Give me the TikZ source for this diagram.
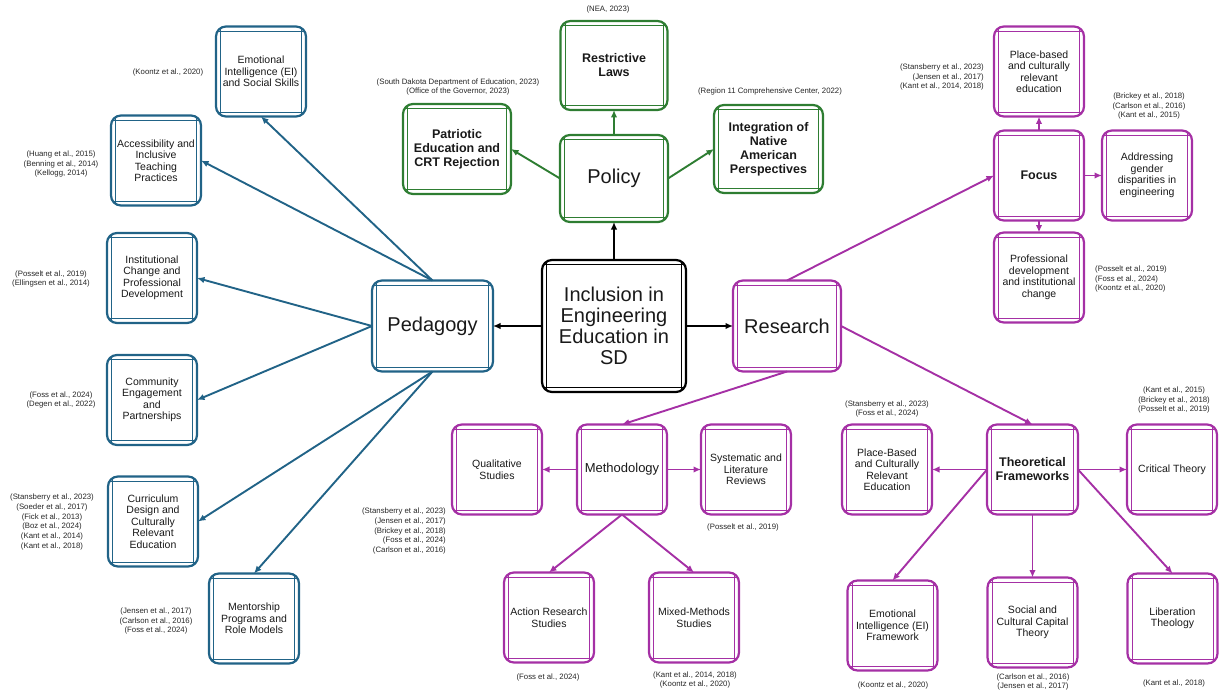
\documentclass[tikz,border=0pt]{standalone}
\usepackage{fontspec}
\setmainfont{Liberation Sans}
\usetikzlibrary{positioning,arrows.meta}

\definecolor{pedblue}{RGB}{33,99,135}
\definecolor{polgreen}{RGB}{46,125,50}
\definecolor{respurple}{RGB}{165,48,165}

\tikzstyle{arrow} = [line width=1.9pt,-{Latex[length=7.5pt,width=6.5pt]}]
\tikzset{
 mapbox/.style
  = {rectangle, draw=#1, rounded corners=10pt, line width=2.2pt, outer sep=0pt,
     minimum width=90pt, minimum height=90pt, inner sep=2pt, align=center, text=black!90,
     font=\fontsize{10.5}{11.5}\selectfont,
     path picture={\draw[#1, line width=0.7pt]
       ([yshift=-4.5pt]path picture bounding box.north west) -- ([yshift=-4.5pt]path picture bounding box.north east)
       ([yshift=4.5pt]path picture bounding box.south west) -- ([yshift=4.5pt]path picture bounding box.south east)
       ([xshift=4.5pt]path picture bounding box.north west) -- ([xshift=4.5pt]path picture bounding box.south west)
       ([xshift=-4.5pt]path picture bounding box.north east) -- ([xshift=-4.5pt]path picture bounding box.south east);}},
 hubbox/.style = {mapbox=black},
 pedbox/.style = {mapbox=pedblue},
 polbox/.style = {mapbox=polgreen},
 resbox/.style = {mapbox=respurple},
 bigtext/.style = {font=\fontsize{20}{21}\selectfont},
 boldtext/.style = {font=\fontsize{12.5}{14}\selectfont\bfseries},
 cite/.style = {inner sep=1pt, align=center, text=black!85, font=\fontsize{7.8}{9.8}\selectfont},
 pedarrow/.style = {arrow, draw=pedblue, fill=pedblue},
 polarrow/.style = {arrow, draw=polgreen, fill=polgreen},
 resarrow/.style = {arrow, draw=respurple, fill=respurple},
 hubarrow/.style = {arrow, line width=1.4pt, draw=black},
}

\begin{document}
\begin{tikzpicture}[x=1pt, y=1pt]
\useasboundingbox (0,0) rectangle (1225,-698);

% centre and the three branches
\node (hub) [hubbox, bigtext, minimum width=144pt, minimum height=132pt] at (614,-326) {Inclusion in\\Engineering\\Education in\\SD};
\node (ped) [pedbox, bigtext, minimum width=121pt, minimum height=91pt, left=49pt of hub] {Pedagogy};
\node (res) [resbox, bigtext, minimum width=108pt, minimum height=91pt, right=47pt of hub] {Research};
\node (policy) [polbox, bigtext, minimum width=108pt, minimum height=87pt, above=38pt of hub] {Policy};

% policy
\node (restr) [polbox, boldtext, minimum width=107pt, minimum height=89pt, above=25pt of policy] {Restrictive\\Laws};
\node (patr) [polbox, boldtext, minimum width=108pt, left=49pt of policy, yshift=29.5pt] {Patriotic\\Education and\\CRT Rejection};
\node (integ) [polbox, boldtext, minimum width=109pt, minimum height=88pt, right=46pt of policy, yshift=29.5pt] {Integration of\\Native\\American\\Perspectives};

% pedagogy
\node (eisk) [pedbox, above left=164pt and 66pt of ped] {Emotional\\Intelligence (EI)\\and Social Skills};
\node (access) [pedbox, above left=75pt and 171pt of ped] {Accessibility and\\Inclusive\\Teaching\\Practices};
\node (instit) [pedbox, left=175pt of ped, yshift=48pt] {Institutional\\Change and\\Professional\\Development};
\node (commun) [pedbox, left=175pt of ped, yshift=-74pt] {Community\\Engagement\\and\\Partnerships};
\node (curric) [pedbox, below left=105pt and 174pt of ped] {Curriculum\\Design and\\Culturally\\Relevant\\Education};
\node (mentor) [pedbox, below left=202pt and 73pt of ped] {Mentorship\\Programs and\\Role Models};

% research: focus
\node (focus) [resbox, boldtext, above right=60pt and 153pt of res] {Focus};
\node (placeb) [resbox, above=14pt of focus] {Place-based\\and culturally\\relevant\\education};
\node (gender) [resbox, right=18pt of focus] {Addressing\\gender\\disparities in\\engineering};
\node (profdev) [resbox, below=12pt of focus] {Professional\\development\\and institutional\\change};

% research: methodology
\node (method) [resbox, font=\fontsize{13}{14}\selectfont, below left=53pt and 66pt of res] {Methodology};
\node (qual) [resbox, left=35pt of method] {Qualitative\\Studies};
\node (system) [resbox, right=34pt of method] {Systematic and\\Literature\\Reviews};
\node (action) [resbox, below=58pt of method, xshift=-73pt] {Action Research\\Studies};
\node (mixed) [resbox, below=58pt of method, xshift=72pt] {Mixed-Methods\\Studies};

% research: theoretical frameworks
\node (theo) [resbox, boldtext, minimum width=91pt, below right=53pt and 146pt of res] {Theoretical\\Frameworks};
\node (placeB) [resbox, left=55pt of theo] {Place-Based\\and Culturally\\Relevant\\Education};
\node (critical) [resbox, right=49pt of theo] {Critical Theory};
\node (eif) [resbox, below=66pt of theo, xshift=-140pt] {Emotional\\Intelligence (EI)\\Framework};
\node (social) [resbox, below=63pt of theo] {Social and\\Cultural Capital\\Theory};
\node (liber) [resbox, below=59pt of theo, xshift=140pt] {Liberation\\Theology};

% references
\node (c_eisk) [cite] at (168,-72) {(Koontz et al., 2020)};
\node (c_access) [cite] at (61,-164) {(Huang et al., 2015)\\(Benning et al., 2014)\\(Kellogg, 2014)};
\node (c_instit) [cite] at (51,-279) {(Posselt et al., 2019)\\(Ellingsen et al., 2014)};
\node (c_commun) [cite] at (61,-400) {(Foss et al., 2024)\\(Degen et al., 2022)};
\node (c_curric) [cite] at (52,-522) {(Stansberry et al., 2023)\\(Soeder et al., 2017)\\(Fick et al., 2013)\\(Boz et al., 2024)\\(Kant et al., 2014)\\(Kant et al., 2018)};
\node (c_mentor) [cite] at (156,-621) {(Jensen et al., 2017)\\(Carlson et al., 2016)\\(Foss et al., 2024)};
\node (c_restr) [cite] at (608,-9) {(NEA, 2023)};
\node (c_patr) [cite] at (458,-87) {(South Dakota Department of Education, 2023)\\(Office of the Governor, 2023)};
\node (c_integ) [cite] at (770,-91) {(Region 11 Comprehensive Center, 2022)};
\node (c_placeb) [cite, align=right, anchor=east] at (985,-77) {(Stansberry et al., 2023)\\(Jensen et al., 2017)\\(Kant et al., 2014, 2018)};
\node (c_gender) [cite] at (1149,-106) {(Brickey et al., 2018)\\(Carlson et al., 2016)\\(Kant et al., 2015)};
\node (c_profdev) [cite, align=left, anchor=west] at (1094,-279) {(Posselt et al., 2019)\\(Foss et al., 2024)\\(Koontz et al., 2020)};
\node (c_method) [cite, align=right, anchor=east] at (447,-531) {(Stansberry et al., 2023)\\(Jensen et al., 2017)\\(Brickey et al., 2018)\\(Foss et al., 2024)\\(Carlson et al., 2016)};
\node (c_system) [cite] at (743,-527) {(Posselt et al., 2019)};
\node (c_action) [cite] at (548,-677) {(Foss et al., 2024)};
\node (c_mixed) [cite] at (695,-680) {(Kant et al., 2014, 2018)\\(Koontz et al., 2020)};
\node (c_placeB) [cite] at (887,-409) {(Stansberry et al., 2023)\\(Foss et al., 2024)};
\node (c_critical) [cite] at (1174,-400) {(Kant et al., 2015)\\(Brickey et al., 2018)\\(Posselt et al., 2019)};
\node (c_eif) [cite] at (893,-685) {(Koontz et al., 2020)};
\node (c_social) [cite] at (1033,-682) {(Carlson et al., 2016)\\(Jensen et al., 2017)};
\node (c_liber) [cite] at (1174,-683) {(Kant et al., 2018)};

% connectors
\draw [hubarrow] (hub.west) -- (ped.east);
\draw [hubarrow] (hub.east) -- (res.west);
\draw [hubarrow] (hub.north) -- (policy.south);

\draw [polarrow] (policy.north) -- (restr.south);
\draw [polarrow] (policy.west) -- (patr.east);
\draw [polarrow] (policy.east) -- (integ.west);

\draw [pedarrow] (ped.north) -- (eisk.south);
\draw [pedarrow] (ped.north) -- (access.east);
\draw [pedarrow] (ped.west) -- (instit.east);
\draw [pedarrow] (ped.west) -- (commun.east);
\draw [pedarrow] (ped.south) -- (curric.east);
\draw [pedarrow] (ped.south) -- (mentor.north);

\draw [resarrow] (res.north) -- (focus.west);
\draw [resarrow] (res.south) -- (method.north);
\draw [resarrow] (res.east) -- (theo.north);

\draw [resarrow] (focus.north) -- (placeb.south);
\draw [resarrow] (focus.east) -- (gender.west);
\draw [resarrow] (focus.south) -- (profdev.north);

\draw [resarrow] (method.west) -- (qual.east);
\draw [resarrow] (method.east) -- (system.west);
\draw [resarrow] (method.south) -- (action.north);
\draw [resarrow] (method.south) -- (mixed.north);

\draw [resarrow] (theo.west) -- (placeB.east);
\draw [resarrow] (theo.east) -- (critical.west);
\draw [resarrow] (theo.west) -- (eif.north);
\draw [resarrow] (theo.south) -- (social.north);
\draw [resarrow] (theo.east) -- (liber.north);
\end{tikzpicture}
\end{document}
